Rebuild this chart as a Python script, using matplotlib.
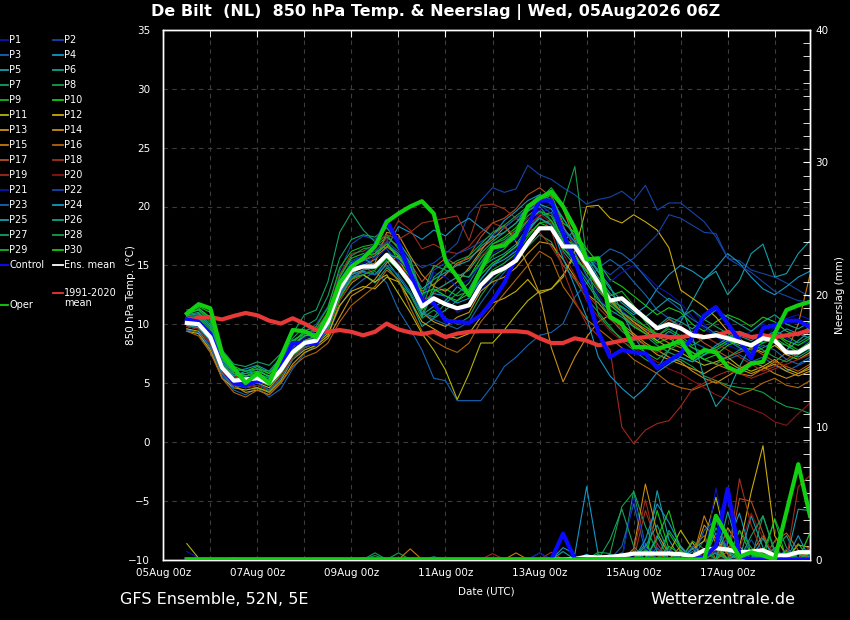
import matplotlib
matplotlib.use('Agg')
import matplotlib.pyplot as plt
from matplotlib.lines import Line2D
from matplotlib.ticker import MultipleLocator, FixedLocator
import numpy as np

W, H = 850, 620

# time axis: hours after 05Aug 00z, 6-hourly from 05Aug 12z to 18Aug 18z
HOURS = [12 + 6 * i for i in range(54)]
XTICK_HOURS = [0, 48, 96, 144, 192, 240, 288]
XTICK_LABELS = ['05Aug 00z', '07Aug 00z', '09Aug 00z', '11Aug 00z',
                '13Aug 00z', '15Aug 00z', '17Aug 00z']

MEMBER_COLORS = ['#0a14b4', '#1446aa', '#1464b4', '#1496c8', '#14a0aa',
                 '#14a08c', '#14a064', '#14a046', '#14b41e', '#14c814',
                 '#b4b40a', '#c8aa0a', '#c89614', '#c88c14', '#c8780a',
                 '#b4640a', '#b4501e', '#a0321e', '#a0281e', '#8c1414']

ENS_MEAN = [10.1, 10.0, 8.9, 6.3, 5.2, 5.3,
            5.4, 5.0, 6.1, 7.6, 8.4, 8.6,
            10.2, 13.0, 14.6, 14.9, 14.9, 15.9,
            14.8, 13.5, 11.5, 12.2, 11.7, 11.35,
            11.6, 13.3, 14.3, 14.75, 15.4, 16.9,
            18.15, 18.15, 16.6, 16.6, 15.1, 13.5,
            12.0, 12.2, 11.35, 10.5, 9.65, 10.0,
            9.65, 9.05, 8.9, 9.05, 8.8, 8.5,
            8.2, 8.8, 8.6, 7.6, 7.6, 8.2]

OPER = [10.9, 11.7, 11.35, 7.5, 6.25, 5.0,
        5.8, 5.0, 7.2, 9.5, 9.4, 8.9,
        10.8, 13.5, 14.9, 15.6, 16.6, 18.7,
        19.4, 20.0, 20.45, 19.4, 15.4, 14.0,
        12.45, 14.6, 16.5, 16.7, 17.55, 20.0,
        20.7, 21.25, 20.0, 18.15, 15.5, 15.6,
        10.6, 10.05, 8.05, 8.05, 7.9, 8.2,
        8.6, 7.1, 7.8, 7.6, 6.35, 5.9,
        6.65, 6.8, 9.2, 11.2, 11.6, 11.9]

CONTROL = [10.4, 10.2, 9.2, 6.35, 5.0, 4.8,
           5.2, 5.1, 6.35, 8.4, 8.4, 8.3,
           10.3, 13.0, 15.0, 15.7, 16.7, 18.8,
           16.9, 14.3, 12.0, 11.8, 10.3, 10.2,
           10.1, 10.75, 12.0, 13.5, 15.7, 18.3,
           20.5, 20.5, 17.7, 15.4, 12.6, 9.3,
           7.2, 7.8, 7.6, 7.5, 6.25, 6.9,
           7.5, 8.9, 10.75, 11.45, 10.05, 8.6,
           7.1, 9.65, 9.9, 10.3, 10.3, 9.75]

CLIMATE = [10.2, 10.55, 10.6, 10.4, 10.7, 10.95,
           10.75, 10.3, 10.05, 10.5, 10.05, 9.5,
           9.35, 9.5, 9.35, 9.05, 9.35, 10.05,
           9.55, 9.3, 9.15, 9.35, 8.9, 9.2,
           9.35, 9.4, 9.4, 9.4, 9.4, 9.3,
           8.8, 8.4, 8.4, 8.8, 8.6, 8.2,
           8.4, 8.6, 8.8, 8.9, 9.05, 8.9,
           8.9, 9.05, 8.9, 9.05, 9.35, 9.2,
           8.9, 9.05, 8.9, 9.05, 9.2, 9.5]

P01 = [10.3, 10.1, 8.5, 6.0, 4.8, 4.6, 5.0, 4.6, 6.0, 7.8, 8.8, 9.2,
       10.5, 13.8, 15.2, 15.8, 16.5, 17.2, 16.0, 14.2, 12.5, 13.0, 12.2, 11.0,
       11.5, 12.8, 14.0, 15.2, 16.5, 18.0, 19.5, 19.8, 17.5, 16.2, 14.0, 12.5,
       10.8, 11.2, 10.2, 9.5, 8.8, 9.2, 10.5, 11.2, 10.0, 9.0, 8.2, 7.8,
       7.5, 8.5, 9.8, 10.5, 10.8, 10.4]
P02 = [9.8, 9.6, 8.2, 6.2, 5.0, 5.5, 5.8, 5.2, 6.8, 8.5, 9.4, 10.0,
       11.5, 14.5, 16.8, 17.5, 17.2, 18.2, 17.0, 15.5, 14.8, 15.2, 16.0, 16.9,
       19.4, 20.5, 21.6, 21.2, 21.5, 23.5, 22.7, 22.3, 21.6, 21.0, 20.2, 20.6,
       20.8, 21.3, 20.5, 21.8, 19.7, 20.3, 20.3, 19.5, 18.7, 17.4, 15.6, 15.4,
       14.6, 14.3, 14.0, 13.5, 12.9, 12.3]
P03 = [9.6, 9.2, 7.6, 5.6, 4.4, 4.0, 4.6, 3.8, 4.5, 6.2, 7.5, 8.2,
       9.0, 11.5, 13.0, 13.8, 14.5, 13.5, 11.2, 9.6, 7.8, 5.4, 5.2, 3.5,
       3.5, 3.5, 4.8, 6.4, 7.2, 8.2, 9.05, 9.3, 10.05, 12.3, 13.5, 14.8,
       15.5, 14.8, 13.6, 12.5, 11.2, 10.5, 9.8, 8.5, 8.0, 7.5, 7.0, 7.4,
       6.8, 7.2, 6.5, 6.0, 6.5, 7.0]
P04 = [10.6, 10.8, 9.8, 7.0, 6.0, 6.2, 6.5, 6.0, 7.0, 8.6, 9.2, 9.0,
       10.0, 12.8, 14.2, 15.0, 15.5, 16.5, 18.3, 17.8, 17.2, 18.0, 17.5, 18.4,
       19.0, 18.2, 17.5, 18.8, 19.6, 20.5, 21.0, 20.2, 19.0, 17.5, 15.5, 13.2,
       12.0, 11.5, 10.8, 11.5, 13.0, 14.2, 15.0, 14.5, 13.8, 14.8, 16.0, 15.2,
       14.0, 13.0, 12.5, 13.2, 14.0, 14.5]
P05 = [10.0, 9.8, 8.8, 6.5, 5.6, 6.0, 6.2, 5.5, 6.2, 7.8, 8.6, 8.8,
       9.5, 12.2, 14.0, 14.5, 14.2, 15.4, 14.0, 12.6, 10.8, 11.5, 12.0, 13.2,
       12.5, 13.8, 15.0, 15.5, 16.2, 17.8, 19.2, 19.5, 17.0, 18.0, 16.0, 14.5,
       13.2, 11.0, 9.0, 7.5, 6.2, 7.8, 10.2, 12.0, 13.8, 14.5, 12.5, 13.7,
       16.0, 16.8, 14.0, 14.3, 16.0, 17.1]
P06 = [10.8, 11.0, 10.0, 7.2, 5.8, 5.6, 5.8, 5.4, 6.4, 7.4, 8.0, 8.4,
       9.6, 12.5, 14.0, 14.2, 13.5, 14.8, 13.8, 12.0, 9.8, 10.5, 11.2, 12.0,
       13.0, 14.8, 15.5, 16.0, 16.8, 18.2, 19.0, 18.5, 16.2, 15.0, 13.5, 12.0,
       11.2, 10.6, 9.8, 9.2, 8.6, 9.4, 8.8, 8.0, 7.4, 7.8, 8.4, 9.0,
       8.6, 9.2, 8.4, 7.6, 7.2, 7.8]
P07 = [11.2, 11.4, 10.5, 7.8, 6.6, 6.4, 6.8, 6.5, 7.5, 9.2, 10.8, 11.2,
       13.6, 17.8, 19.5, 18.0, 17.0, 16.4, 15.0, 13.2, 11.0, 10.6, 11.8, 12.6,
       13.5, 15.2, 16.8, 17.2, 18.0, 19.2, 20.0, 18.8, 16.5, 15.2, 13.8, 12.2,
       10.5, 9.4, 8.6, 9.0, 8.2, 7.6, 7.2, 6.8, 7.4, 8.0, 8.6, 8.0,
       7.4, 8.0, 8.5, 8.2, 7.6, 7.9]
P08 = [10.4, 10.6, 9.4, 6.6, 5.2, 4.8, 4.6, 4.3, 5.4, 7.2, 8.2, 8.6,
       9.4, 12.8, 14.8, 15.0, 14.2, 15.0, 13.6, 12.5, 10.5, 11.2, 10.5, 10.0,
       10.6, 12.4, 13.8, 14.6, 15.5, 16.6, 17.6, 17.0, 15.0, 13.8, 12.2, 11.0,
       9.8, 8.6, 7.8, 7.0, 6.5, 6.8, 7.0, 6.4, 5.6, 5.2, 4.8, 4.6,
       4.5, 4.2, 3.5, 3.0, 2.8, 2.4]
P09 = [10.9, 11.2, 10.2, 7.0, 5.8, 5.8, 6.2, 5.8, 7.0, 8.4, 9.4, 9.8,
       11.4, 14.8, 16.2, 16.6, 16.8, 17.6, 16.4, 15.0, 11.2, 12.8, 13.0, 12.4,
       12.8, 14.6, 15.8, 16.4, 17.5, 18.8, 19.6, 19.2, 17.2, 16.8, 15.2, 13.8,
       12.4, 12.8, 11.6, 10.2, 9.0, 9.6, 9.0, 8.2, 8.8, 9.4, 9.0, 8.6,
       8.0, 8.8, 9.2, 8.4, 7.8, 8.5]
P10 = [11.0, 11.5, 11.0, 7.6, 6.4, 6.0, 6.4, 5.8, 6.8, 8.6, 9.2, 9.4,
       10.8, 14.0, 15.6, 16.0, 16.2, 17.0, 15.4, 14.0, 10.8, 13.2, 15.0, 14.2,
       14.0, 15.6, 16.8, 17.4, 18.2, 19.6, 20.4, 21.0, 18.6, 17.8, 16.4, 15.2,
       13.8, 13.2, 12.4, 11.6, 10.8, 11.4, 11.0, 10.0, 9.4, 10.2, 10.8, 10.4,
       9.8, 10.6, 10.2, 9.4, 9.0, 9.8]
P11 = [9.6, 9.4, 8.0, 5.8, 4.6, 4.4, 4.6, 4.2, 5.2, 7.0, 7.8, 8.2,
       9.0, 12.0, 13.5, 14.2, 13.6, 14.2, 12.6, 11.0, 9.2, 7.8, 6.1, 3.6,
       5.8, 8.4, 8.4, 9.5, 10.8, 12.0, 12.8, 13.0, 14.2, 15.8, 14.5, 13.2,
       12.0, 11.0, 10.2, 9.4, 8.6, 8.0, 7.6, 7.0, 6.5, 6.8, 7.2, 6.4,
       6.0, 6.4, 7.0, 6.2, 5.8, 6.4]
P12 = [9.4, 9.2, 7.8, 5.4, 4.6, 4.8, 5.0, 4.6, 5.6, 7.2, 8.0, 8.4,
       9.2, 11.6, 12.8, 13.2, 13.0, 14.0, 13.6, 12.0, 10.2, 9.6, 9.0, 8.8,
       9.2, 10.6, 11.8, 12.2, 12.8, 13.8, 12.6, 13.0, 14.0, 16.2, 20.0, 20.1,
       19.0, 18.6, 19.3, 18.7, 18.0, 16.5, 12.9, 12.2, 11.5, 10.6, 9.4, 8.8,
       8.0, 7.6, 8.2, 7.4, 7.0, 7.6]
P13 = [9.8, 9.6, 8.4, 6.0, 4.8, 4.2, 4.4, 4.0, 5.0, 6.6, 7.6, 8.0,
       8.8, 10.6, 12.4, 13.0, 13.8, 15.2, 15.8, 13.4, 11.0, 10.2, 9.8, 10.6,
       11.0, 12.8, 13.6, 14.0, 14.8, 16.0, 17.0, 16.8, 15.5, 14.0, 12.6, 11.8,
       10.6, 9.8, 9.0, 8.2, 7.4, 7.0, 6.6, 6.2, 5.8, 6.4, 6.8, 6.2,
       5.8, 6.2, 6.6, 6.0, 5.6, 6.0]
P14 = [10.2, 10.0, 8.8, 6.4, 5.0, 4.6, 4.8, 4.4, 5.8, 7.4, 8.4, 8.8,
       10.0, 12.6, 14.4, 14.8, 15.2, 17.8, 17.6, 15.8, 14.2, 13.2, 12.8, 13.6,
       14.8, 16.2, 17.6, 18.4, 17.0, 15.0, 12.6, 8.0, 5.1, 7.2, 8.9, 10.2,
       10.8, 10.0, 9.2, 8.4, 7.8, 7.2, 6.8, 6.0, 5.4, 5.0, 5.6, 6.2,
       6.8, 6.4, 5.8, 5.4, 5.8, 6.2]
P15 = [10.0, 9.8, 8.6, 6.2, 4.8, 5.0, 5.2, 4.8, 6.0, 7.6, 8.6, 9.0,
       10.2, 12.4, 13.8, 14.6, 15.6, 16.6, 15.8, 14.4, 12.8, 13.4, 14.2, 15.2,
       15.6, 16.4, 17.2, 18.2, 19.0, 19.8, 20.5, 21.4, 19.8, 17.2, 15.0, 13.6,
       12.2, 11.0, 10.2, 9.6, 9.0, 8.4, 8.0, 7.6, 7.0, 6.6, 6.2, 5.8,
       5.6, 6.2, 6.8, 7.6, 10.0, 14.2]
P16 = [9.4, 9.0, 7.6, 5.4, 4.2, 3.8, 4.4, 4.0, 5.0, 6.4, 7.2, 7.6,
       8.4, 10.2, 11.6, 12.4, 13.2, 14.6, 13.8, 11.4, 9.4, 8.6, 8.0, 7.6,
       8.4, 10.2, 11.4, 12.6, 13.8, 15.0, 16.2, 15.6, 13.2, 11.8, 10.4, 9.6,
       8.8, 8.0, 7.0, 6.4, 5.8, 5.0, 4.6, 4.4, 4.8, 5.2, 4.6, 4.0,
       4.4, 5.0, 5.4, 4.8, 4.6, 5.2]
P17 = [10.4, 10.6, 9.2, 6.6, 5.4, 5.2, 5.4, 5.0, 6.2, 7.8, 8.6, 9.0,
       10.4, 13.2, 15.0, 15.4, 16.0, 17.4, 16.6, 15.2, 13.6, 14.8, 15.6, 15.0,
       15.8, 17.4, 18.6, 19.0, 19.8, 21.0, 21.6, 20.8, 18.4, 16.4, 14.6, 13.0,
       11.6, 10.8, 10.0, 9.2, 9.6, 10.4, 9.8, 9.2, 8.4, 7.8, 7.2, 7.6,
       8.0, 7.4, 6.8, 6.4, 6.0, 6.6]
P18 = [10.6, 10.8, 9.6, 6.8, 5.6, 5.4, 5.6, 5.2, 6.4, 8.0, 9.0, 9.6,
       11.0, 14.2, 16.0, 16.2, 16.8, 17.6, 17.2, 17.8, 18.6, 18.8, 19.0, 19.2,
       17.1, 20.1, 20.2, 19.8, 19.0, 18.2, 17.8, 16.6, 15.0, 13.8, 12.6, 11.4,
       10.4, 9.6, 8.8, 8.2, 7.6, 8.2, 8.8, 9.4, 9.0, 8.4, 7.8, 7.2,
       6.6, 6.0, 6.4, 7.0, 7.6, 8.0]
P19 = [10.2, 10.4, 9.0, 6.4, 5.2, 5.0, 5.2, 4.8, 6.0, 7.6, 8.4, 8.6,
       9.8, 12.6, 14.2, 14.6, 15.8, 17.0, 18.8, 18.0, 16.4, 16.8, 16.2, 16.0,
       16.6, 17.8, 18.6, 18.2, 17.6, 18.4, 19.2, 18.0, 14.6, 12.0, 10.0, 9.0,
       7.8, 1.25, -0.15, 1.0, 1.55, 1.8, 3.0, 4.5, 5.0, 5.6, 6.0, 5.8,
       5.4, 5.8, 6.2, 6.6, 7.0, 7.4]
P20 = [9.8, 9.6, 8.4, 6.0, 4.8, 4.6, 4.8, 4.4, 5.6, 7.2, 8.0, 8.4,
       9.4, 12.0, 13.6, 14.2, 14.8, 16.0, 15.2, 13.8, 12.0, 12.6, 13.4, 14.0,
       14.6, 15.8, 16.6, 17.0, 17.8, 19.0, 19.4, 18.6, 16.0, 14.2, 12.0, 10.6,
       9.4, 8.6, 8.0, 7.4, 6.8, 6.2, 5.8, 5.2, 4.6, 4.0, 3.6, 3.2,
       2.8, 2.4, 1.7, 1.4, 2.4, 3.3]
P21 = [10.0, 9.8, 8.6, 6.2, 5.0, 5.2, 5.4, 5.0, 6.2, 7.6, 8.4, 8.8,
       10.0, 13.0, 14.6, 15.2, 15.6, 16.4, 15.4, 14.6, 11.8, 14.4, 14.0, 13.2,
       13.8, 15.0, 16.0, 16.6, 17.2, 18.6, 19.8, 20.2, 18.2, 17.0, 16.0, 14.8,
       13.6, 14.4, 15.0, 14.2, 13.2, 12.6, 11.8, 10.6, 9.6, 9.0, 8.4, 8.8,
       9.4, 10.0, 9.6, 8.8, 8.2, 8.6]
P22 = [10.2, 10.0, 8.8, 6.6, 5.4, 5.2, 5.6, 5.2, 6.4, 8.0, 9.0, 9.4,
       10.8, 13.4, 15.4, 15.8, 16.2, 17.0, 16.2, 15.4, 12.0, 14.6, 15.2, 16.0,
       16.4, 17.0, 17.6, 18.2, 19.0, 19.8, 20.2, 19.4, 18.0, 16.8, 15.8, 15.0,
       14.2, 15.0, 15.6, 16.6, 17.6, 19.3, 19.0, 18.4, 17.8, 17.7, 15.6, 15.0,
       14.4, 13.6, 12.8, 12.4, 12.0, 11.9]
P23 = [9.5, 9.3, 8.0, 5.8, 4.6, 4.8, 5.0, 4.4, 5.4, 7.0, 8.0, 8.4,
       9.4, 12.4, 14.0, 14.4, 14.2, 15.0, 14.2, 12.8, 11.0, 10.4, 10.0, 9.6,
       10.2, 11.8, 13.2, 14.4, 15.6, 17.0, 18.0, 18.2, 16.8, 15.4, 14.6, 15.6,
       16.4, 16.0, 15.2, 14.0, 12.8, 12.0, 11.2, 10.4, 9.8, 9.2, 8.6, 8.0,
       7.6, 8.2, 7.8, 7.0, 6.6, 7.2]
P24 = [10.6, 10.4, 9.2, 6.8, 5.6, 5.8, 6.0, 5.6, 6.6, 8.2, 9.0, 9.2,
       10.4, 13.6, 15.2, 15.6, 15.0, 16.0, 15.0, 13.6, 11.8, 12.6, 12.4, 11.8,
       12.2, 13.8, 15.0, 15.8, 16.6, 18.0, 19.0, 18.4, 15.6, 13.2, 10.6, 7.2,
       5.6, 4.55, 3.7, 4.6, 5.9, 6.6, 7.2, 6.8, 7.4, 8.2, 8.8, 9.4,
       9.0, 8.4, 9.0, 9.6, 9.2, 8.8]
P25 = [9.9, 9.7, 8.6, 6.3, 5.0, 5.2, 5.5, 5.0, 6.0, 7.6, 8.4, 8.8,
       9.8, 12.6, 14.2, 14.6, 14.8, 16.0, 15.6, 14.8, 13.0, 13.8, 14.4, 15.0,
       15.4, 16.6, 17.4, 17.8, 18.6, 19.6, 20.2, 19.8, 18.2, 17.0, 15.6, 14.0,
       12.6, 11.8, 11.0, 10.6, 11.4, 12.2, 11.6, 9.0, 5.4, 3.0, 4.2, 6.4,
       8.2, 9.0, 8.4, 7.8, 8.6, 9.4]
P26 = [10.7, 10.9, 9.8, 7.0, 5.8, 5.4, 5.6, 5.2, 6.2, 7.8, 8.6, 9.0,
       10.2, 13.4, 15.0, 15.4, 15.8, 16.8, 16.0, 14.6, 10.6, 12.8, 13.4, 14.0,
       14.6, 16.0, 17.0, 17.8, 18.6, 20.0, 21.0, 20.6, 19.0, 17.4, 15.8, 14.4,
       13.0, 12.0, 11.2, 10.4, 9.8, 10.6, 10.2, 9.6, 10.4, 11.2, 10.6, 10.0,
       9.4, 10.2, 10.8, 10.0, 9.6, 10.2]
P27 = [11.0, 11.2, 10.4, 7.4, 6.2, 6.0, 6.2, 6.0, 7.2, 8.8, 9.8, 10.4,
       12.4, 15.6, 17.2, 17.6, 17.4, 18.2, 17.0, 15.6, 12.4, 15.0, 14.6, 14.2,
       14.0, 15.2, 16.4, 17.0, 17.8, 18.8, 19.6, 18.8, 17.0, 16.0, 14.2, 12.8,
       11.8, 11.0, 10.4, 9.8, 9.0, 9.8, 10.6, 11.2, 10.4, 9.8, 9.2, 8.6,
       8.2, 8.8, 9.4, 9.0, 8.4, 9.0]
P28 = [10.5, 10.7, 9.6, 6.8, 5.4, 5.6, 5.8, 5.4, 6.6, 8.2, 9.2, 9.6,
       10.8, 14.0, 15.8, 16.4, 16.6, 17.4, 16.6, 15.2, 11.4, 14.0, 14.8, 15.4,
       15.8, 16.8, 17.8, 18.4, 19.2, 20.0, 20.6, 21.6, 20.2, 23.4, 15.6, 10.8,
       9.6, 8.8, 8.2, 7.6, 7.0, 7.8, 8.4, 7.6, 7.0, 6.6, 7.2, 7.8,
       8.4, 7.8, 7.2, 6.8, 7.4, 8.0]
P29 = [10.3, 10.5, 9.4, 6.6, 5.4, 5.0, 5.2, 4.8, 5.8, 7.4, 8.2, 8.6,
       9.6, 12.2, 13.8, 14.2, 14.6, 15.6, 14.6, 13.2, 11.6, 12.2, 11.8, 11.4,
       11.8, 13.4, 14.6, 15.2, 16.0, 17.4, 18.6, 18.8, 17.4, 16.6, 15.0, 13.6,
       12.2, 11.4, 10.6, 9.8, 9.2, 9.0, 8.6, 8.0, 7.6, 8.0, 8.6, 8.2,
       7.8, 8.4, 8.8, 8.2, 7.6, 8.2]
P30 = [10.8, 11.3, 10.6, 7.2, 6.0, 5.6, 6.0, 5.6, 6.6, 8.2, 9.0, 9.2,
       10.6, 13.6, 15.2, 15.8, 16.0, 16.8, 15.8, 14.2, 12.6, 13.0, 12.4, 12.0,
       12.6, 14.2, 15.2, 15.8, 16.6, 17.6, 18.6, 18.2, 16.4, 15.6, 14.6, 13.2,
       11.6, 10.8, 9.8, 9.2, 8.4, 8.8, 8.2, 7.6, 7.0, 7.4, 8.2, 8.6,
       8.0, 8.6, 9.2, 8.6, 8.2, 8.8]

MEMBER_TEMPS = [P01, P02, P03, P04, P05, P06, P07, P08, P09, P10,
                P11, P12, P13, P14, P15, P16, P17, P18, P19, P20,
                P21, P22, P23, P24, P25, P26, P27, P28, P29, P30]

# precipitation (mm), non-zero values per time index
MEMBER_PRECIP = [
    {0: 0.6, 1: 0.1, 38: 0.3, 40: 1.2, 44: 0.8, 46: 1.5, 47: 0.6, 50: 0.4, 51: 0.2},
    {34: 0.3, 39: 0.8, 41: 0.4, 45: 0.6, 48: 0.3, 52: 0.5},
    {30: 0.5, 37: 1.0, 38: 4.2, 39: 0.6, 44: 1.5, 45: 0.4, 49: 0.8},
    {32: 0.9, 33: 0.4, 34: 5.5, 35: 0.3, 40: 1.8, 43: 0.6, 46: 1.2, 47: 3.5, 48: 0.4},
    {21: 0.2, 37: 0.5, 40: 5.2, 41: 1.5, 44: 0.7, 48: 3.3, 49: 0.9, 52: 3.8, 53: 3.7},
    {36: 0.4, 39: 1.2, 41: 2.2, 42: 0.9, 45: 2.0, 46: 0.5, 50: 0.8, 51: 1.8, 53: 0.6},
    {4: 0.15, 16: 0.5, 38: 5.2, 39: 2.5, 40: 0.6, 45: 1.2, 47: 0.4, 49: 3.3, 50: 0.5},
    {18: 0.5, 35: 0.55, 36: 0.45, 37: 4.0, 38: 5.1, 39: 1.0, 44: 0.6, 50: 3.1, 51: 0.9},
    {39: 0.6, 41: 2.0, 42: 0.6, 46: 1.4, 48: 0.6, 53: 2.0},
    {37: 0.3, 40: 3.7, 41: 0.8, 45: 0.9, 47: 2.2, 48: 0.4, 52: 1.2},
    {0: 1.2, 1: 0.1, 41: 0.5, 42: 2.2, 43: 0.8, 44: 1.4, 45: 4.7, 46: 1.0, 50: 0.6},
    {38: 0.4, 43: 1.3, 47: 0.9, 48: 5.1, 49: 8.6, 50: 1.8, 51: 0.3},
    {39: 0.5, 42: 1.0, 44: 2.6, 45: 1.6, 46: 0.4, 52: 1.1, 53: 0.9},
    {15: 0.15, 38: 0.8, 39: 5.7, 40: 2.0, 41: 0.4, 46: 2.4, 47: 1.0, 51: 0.7},
    {19: 0.8, 28: 0.5, 42: 0.7, 44: 3.3, 45: 1.2, 48: 0.5, 49: 1.8, 53: 0.8},
    {40: 0.5, 43: 0.9, 44: 1.8, 46: 0.6, 50: 1.4, 51: 2.0, 52: 0.7},
    {39: 0.4, 45: 0.8, 47: 4.6, 48: 4.4, 49: 2.0, 52: 0.6},
    {31: 0.55, 39: 3.7, 40: 1.2, 47: 6.1, 48: 2.6, 49: 0.4, 53: 1.0},
    {26: 0.45, 38: 0.6, 39: 4.5, 40: 0.8, 42: 0.5, 46: 1.8, 52: 5.5, 53: 6.35},
    {40: 0.3, 44: 0.5, 47: 0.8, 48: 3.5, 49: 1.6, 50: 0.4},
    {30: 0.5, 38: 4.7, 39: 0.9, 45: 5.4, 46: 0.8, 47: 0.3},
    {37: 0.4, 41: 0.8, 43: 1.0, 48: 1.5, 51: 0.8},
    {33: 0.2, 40: 0.9, 44: 2.2, 45: 3.0, 46: 0.6, 49: 0.5},
    {34: 0.4, 39: 1.5, 40: 4.2, 41: 2.8, 42: 1.0, 47: 0.5, 52: 1.8},
    {32: 0.6, 38: 0.5, 43: 0.8, 46: 3.6, 47: 0.7, 49: 1.6, 52: 0.4},
    {39: 1.0, 40: 2.6, 41: 0.5, 45: 2.4, 46: 0.6, 50: 0.9},
    {36: 1.5, 37: 3.8, 38: 1.0, 42: 0.6, 45: 0.5, 48: 1.8, 49: 3.3, 50: 0.7},
    {16: 0.3, 35: 0.4, 40: 0.6, 43: 1.4, 44: 0.8, 47: 2.2, 48: 0.9, 51: 0.5},
    {39: 0.7, 41: 1.0, 42: 0.4, 46: 0.9, 51: 0.6, 53: 2.0},
    {40: 1.6, 41: 3.7, 42: 0.6, 45: 1.0, 49: 0.5, 50: 3.0, 53: 0.5},
]
CONTROL_PRECIP = {32: 1.95, 33: 0.05, 44: 0.2, 45: 1.0, 46: 5.35, 47: 0.3}
OPER_PRECIP = {45: 3.3, 46: 1.7, 47: 0.2, 48: 0.55, 49: 0.3, 51: 3.6, 52: 7.2, 53: 3.3}
MEAN_PRECIP = {33: 0.05, 34: 0.2, 35: 0.15, 36: 0.2, 37: 0.3, 38: 0.45, 39: 0.45,
               40: 0.45, 41: 0.45, 42: 0.4, 43: 0.25, 44: 0.7, 45: 0.85, 46: 0.75,
               47: 0.55, 48: 0.6, 49: 0.7, 50: 0.3, 51: 0.3, 52: 0.55, 53: 0.55}


def expand(d):
    arr = np.zeros(len(HOURS))
    for k, v in d.items():
        arr[k] = v
    return arr


# ---------------------------------------------------------------- figure
fig = plt.figure(figsize=(W / 100, H / 100), dpi=100, facecolor='black')
ax_l, ax_r, ax_t, ax_b = 163.3, 810.0, 30.0, 559.5
ax = fig.add_axes([ax_l / W, 1 - ax_b / H, (ax_r - ax_l) / W, (ax_b - ax_t) / H])
ax.set_facecolor('black')
ax2 = ax.twinx()

x = np.array(HOURS)
for k, temps in enumerate(MEMBER_TEMPS):
    ax.plot(x, temps, color=MEMBER_COLORS[k % 20], lw=0.8, zorder=2)
ax.plot(x, CLIMATE, color='#e83838', lw=3.0, zorder=4, solid_capstyle='butt')
ax.plot(x, CONTROL, color='#0a0aff', lw=3.0, zorder=5)
ax.plot(x, ENS_MEAN, color='white', lw=3.0, zorder=6)
ax.plot(x, OPER, color='#10d010', lw=3.0, zorder=7)

for k, d in enumerate(MEMBER_PRECIP):
    ax2.plot(x, expand(d), color=MEMBER_COLORS[k % 20], lw=0.8, zorder=2)
ax2.plot(x, expand(MEAN_PRECIP), color='white', lw=3.0, zorder=5)
ax2.plot(x, expand(CONTROL_PRECIP), color='#0a0aff', lw=3.0, zorder=6)
ax2.plot(x, expand(OPER_PRECIP), color='#10d010', lw=3.0, zorder=7)

ax.set_xlim(0, 330)
ax.set_ylim(-10, 35)
ax2.set_ylim(0, 40)

grid_kw = dict(color='#3c3c3c', lw=0.8, ls=(0, (4, 4)))
ax.xaxis.set_major_locator(FixedLocator(XTICK_HOURS))
ax.set_xticklabels(XTICK_LABELS)
ax.xaxis.set_minor_locator(MultipleLocator(24))
ax.yaxis.set_major_locator(MultipleLocator(5))
ax.grid(True, which='major', axis='y', **grid_kw)
ax.grid(True, which='both', axis='x', **grid_kw)
ax.set_axisbelow(True)

ax.tick_params(axis='x', which='both', bottom=False, top=True, direction='in',
               length=5, color='white', labelcolor='white', labelsize=7.5, pad=6)
ax.tick_params(axis='y', which='both', left=False, labelcolor='white',
               labelsize=7.5, pad=6)
ax2.yaxis.set_major_locator(MultipleLocator(10))
ax2.yaxis.set_minor_locator(MultipleLocator(1))
ax2.tick_params(axis='y', which='both', direction='in', length=5, color='white',
                labelcolor='white', labelsize=7.5, pad=4)

for a in (ax, ax2):
    for s in a.spines.values():
        s.set_color('white')
        s.set_linewidth(1.0)

ax.set_xlabel('Date (UTC)', color='white', fontsize=7.5, labelpad=6)
mid_y = 1 - (ax_t + ax_b) / 2 / H
fig.text(131 / W, mid_y, '850 hPa Temp. (°C)', color='white', fontsize=7.5,
         rotation=90, ha='center', va='center')
fig.text(840 / W, mid_y, 'Neerslag (mm)', color='white', fontsize=7.5,
         rotation=90, ha='center', va='center')

fig.text(436 / W, 1 - 12 / H,
         'De Bilt  (NL)  850 hPa Temp. & Neerslag | Wed, 05Aug2026 06Z',
         color='white', fontsize=11.5, fontweight='bold', ha='center', va='center')
fig.text(120 / W, 1 - 599 / H, 'GFS Ensemble, 52N, 5E', color='white',
         fontsize=11.5, ha='left', va='center')
fig.text(795 / W, 1 - 599 / H, 'Wetterzentrale.de', color='white',
         fontsize=11.5, ha='right', va='center')


# ---------------------------------------------------------------- legend
def leg(px0, px1, py, color, label, lw=1.3):
    fig.add_artist(Line2D([px0 / W, px1 / W], [1 - py / H, 1 - py / H],
                          transform=fig.transFigure, color=color, lw=lw))
    fig.text((px1 + 1) / W, 1 - py / H, label, color='white', fontsize=7,
             ha='left', va='center')


for k in range(30):
    row = k // 2
    py = 40 + 15 * row
    if k % 2 == 0:
        leg(0, 8, py, MEMBER_COLORS[k % 20], 'P%d' % (k + 1))
    else:
        leg(53, 63, py, MEMBER_COLORS[k % 20], 'P%d' % (k + 1))
leg(0, 8, 265, '#0a0aff', 'Control')
leg(53, 63, 265, 'white', 'Ens. mean')
leg(0, 8, 305, '#10d010', 'Oper')
fig.add_artist(Line2D([53 / W, 63 / W], [1 - 293 / H, 1 - 293 / H],
                      transform=fig.transFigure, color='#e83838', lw=1.3))
fig.text(64 / W, 1 - 293 / H, '1991-2020', color='white', fontsize=7,
         ha='left', va='center')
fig.text(64 / W, 1 - 303 / H, 'mean', color='white', fontsize=7,
         ha='left', va='center')

fig.savefig('out.png', dpi=100, facecolor='black')
